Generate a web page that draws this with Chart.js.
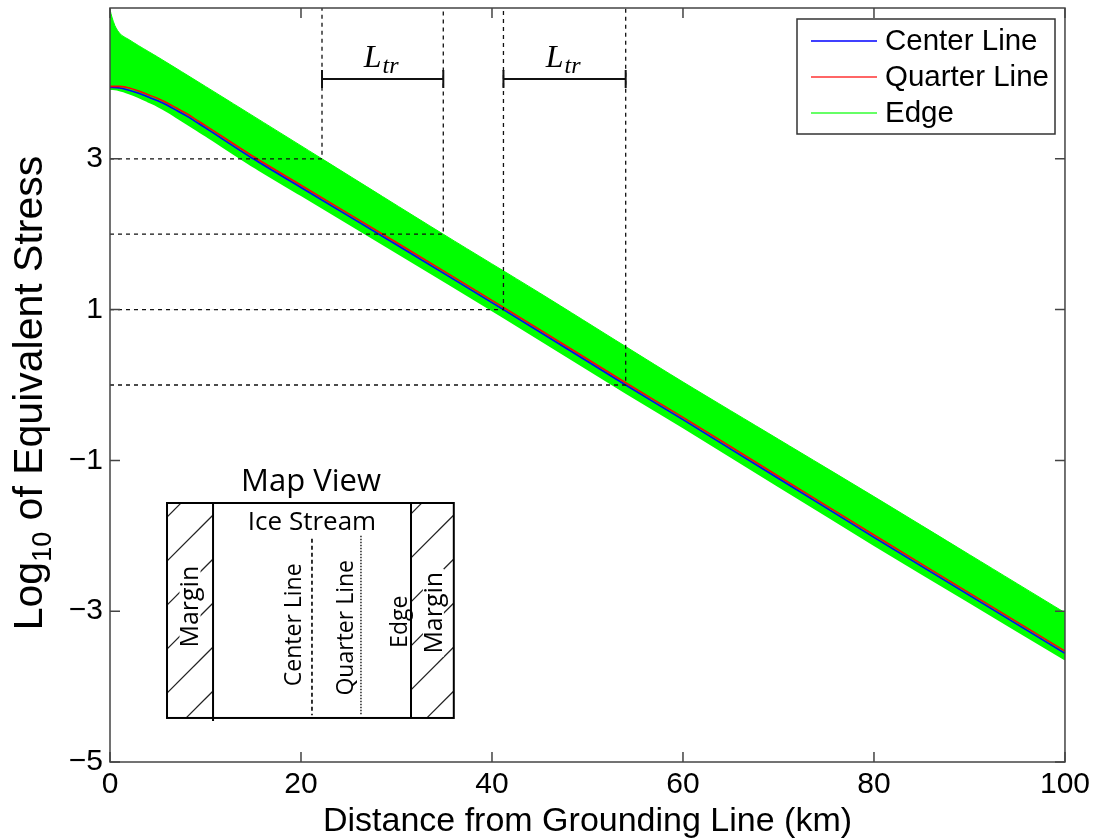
<!DOCTYPE html>
<html><head><meta charset="utf-8">
<script src="https://cdn.jsdelivr.net/npm/chart.js@4.4.0/dist/chart.umd.min.js"></script>
<style>html,body{margin:0;padding:0;background:#fff;}#wrap{width:1095px;height:839px;position:relative;}</style>
</head><body><div id="wrap"><canvas id="c" width="1095" height="839"></canvas></div>
<script>
// ---- data ----
const xTickValues = [0, 20, 40, 60, 80, 100];
const yLabelValues = [-5, -3, -1, 1, 3];
const centerX   = [0, 1, 2, 3, 4, 5, 6, 7, 8, 9, 10, 15, 20, 30, 41.2, 54, 60, 70, 80, 90, 100];
const centerY   = [3.95, 3.94, 3.91, 3.87, 3.82, 3.77, 3.71, 3.64, 3.57, 3.49, 3.41, 3.00, 2.62, 1.86, 1.00, 0.00, -0.46, -1.24, -2.02, -2.79, -3.56];
const quarterY  = [3.96, 3.96, 3.94, 3.90, 3.85, 3.80, 3.74, 3.67, 3.60, 3.52, 3.44, 3.03, 2.65, 1.89, 1.03, 0.03, -0.43, -1.21, -1.99, -2.76, -3.53];
const edgeLowY  = [3.93, 3.91, 3.87, 3.82, 3.76, 3.70, 3.63, 3.55, 3.47, 3.39, 3.31, 2.90, 2.52, 1.76, 0.90, -0.10, -0.56, -1.34, -2.12, -2.88, -3.64];
const edgeUpX   = [0, 0.2, 0.5, 0.8, 1.2, 2, 3, 5, 10, 22.2, 34.9, 45, 54, 60, 70, 80, 90, 100];
const edgeUpY   = [4.98, 4.88, 4.77, 4.70, 4.64, 4.58, 4.50, 4.35, 3.96, 3.00, 2.00, 1.22, 0.51, 0.04, -0.72, -1.48, -2.25, -3.02];
const guideX    = [22.2, 34.9, 41.2, 54.0];
const guideY    = [3, 2, 1, 0];
const ltrStart  = [22.2, 41.2];
const ltrEnd    = [34.9, 54.0];
const ltrLevel  = 4.06;
const seriesNames  = ['Center Line', 'Quarter Line', 'Edge'];
const seriesColors = ['#0000ff', '#ff3333', '#33ff33'];

const pts = (xs, ys) => xs.map((x, i) => ({x, y: ys[i]}));
const SANS = '"Liberation Sans", Arial, sans-serif';
const MAPF = '"Open Sans", "Noto Sans", sans-serif';
const fmt = v => (v < 0 ? '\u2212' + Math.abs(v) : String(v));

const overlay = {
  id: 'overlay',
  afterDatasetsDraw(chart) {
    const ctx = chart.ctx, xs = chart.scales.x, ys = chart.scales.y, a = chart.chartArea;
    const X = v => xs.getPixelForValue(v), Y = v => ys.getPixelForValue(v);
    ctx.save();
    // dashed guides
    ctx.strokeStyle = '#111'; ctx.lineWidth = 1.3; ctx.setLineDash([4, 4]);
    guideX.forEach((gx, i) => {
      ctx.beginPath();
      ctx.moveTo(X(0), Y(guideY[i])); ctx.lineTo(X(gx), Y(guideY[i]));
      ctx.lineTo(X(gx), Y(5));
      ctx.stroke();
    });
    ctx.setLineDash([]);
    // L_tr brackets
    ctx.lineWidth = 2; ctx.strokeStyle = '#111'; ctx.fillStyle = '#000';
    ltrStart.forEach((s, i) => {
      const x1 = X(s), x2 = X(ltrEnd[i]), yb = Y(ltrLevel);
      ctx.beginPath();
      ctx.moveTo(x1, yb); ctx.lineTo(x2, yb);
      ctx.moveTo(x1, yb - 9); ctx.lineTo(x1, yb + 9);
      ctx.moveTo(x2, yb - 9); ctx.lineTo(x2, yb + 9);
      ctx.stroke();
      const cx = (x1 + x2) / 2;
      ctx.font = 'italic 32px "Liberation Serif", "DejaVu Serif", serif';
      const wL = ctx.measureText('L').width;
      ctx.font = 'italic 24px "Liberation Serif", "DejaVu Serif", serif';
      const wT = ctx.measureText('tr').width;
      const x0 = cx - (wL + wT) / 2 - 2;
      ctx.textBaseline = 'alphabetic'; ctx.textAlign = 'left';
      ctx.font = 'italic 32px "Liberation Serif", "DejaVu Serif", serif';
      ctx.fillText('L', x0, yb - 12);
      ctx.font = 'italic 24px "Liberation Serif", "DejaVu Serif", serif';
      ctx.fillText('tr', x0 + wL + 1, yb - 6);
    });

    // inset "Map View"
    const bx1 = X(5.97), bx2 = X(36.0), by1 = Y(-1.565), by2 = Y(-4.416);
    const m1 = X(10.79), m2 = X(31.52);
    ctx.fillStyle = '#fff'; ctx.fillRect(bx1, by1, bx2 - bx1, by2 - by1);
    // hatching
    ctx.lineWidth = 1.2; ctx.strokeStyle = '#222';
    [[bx1, m1], [m2, bx2]].forEach(([l, r]) => {
      ctx.save(); ctx.beginPath(); ctx.rect(l, by1, r - l, by2 - by1); ctx.clip();
      for (let k = -2; k < 8; k++) {
        const y0 = by1 + 12 + k * 44;
        ctx.beginPath(); ctx.moveTo(l, y0 + (r - l)); ctx.lineTo(r, y0); ctx.stroke();
      }
      ctx.restore();
    });
    const rotText = (txt, cx, cy, size, bg) => {
      ctx.save(); ctx.translate(cx, cy); ctx.rotate(-Math.PI / 2);
      ctx.font = size + 'px ' + MAPF; ctx.textAlign = 'center'; ctx.textBaseline = 'middle';
      const w = ctx.measureText(txt).width;
      if (bg) { ctx.fillStyle = '#fff'; ctx.fillRect(-w / 2 - 3, -size * 0.42, w + 6, size * 0.84); }
      ctx.fillStyle = '#000'; ctx.fillText(txt, 0, 1);
      ctx.restore();
    };
    rotText('Margin', (bx1 + m1) / 2, Y(-2.94), 25, true);
    rotText('Margin', (m2 + bx2) / 2 + 1, Y(-3.02), 25, true);
    // outline
    ctx.lineWidth = 2; ctx.strokeStyle = '#000';
    ctx.strokeRect(bx1, by1, bx2 - bx1, by2 - by1);
    ctx.beginPath(); ctx.moveTo(m1, by1); ctx.lineTo(m1, by2 + 3); ctx.moveTo(m2, by1); ctx.lineTo(m2, by2); ctx.stroke();
    // center & quarter lines
    ctx.lineWidth = 1.6; ctx.setLineDash([4, 3]);
    ctx.beginPath(); ctx.moveTo(X(21.15), Y(-2.04)); ctx.lineTo(X(21.15), Y(-4.38)); ctx.stroke();
    ctx.lineWidth = 1.3; ctx.setLineDash([1.5, 1.5]);
    ctx.beginPath(); ctx.moveTo(X(26.28), Y(-2.0)); ctx.lineTo(X(26.28), Y(-4.38)); ctx.stroke();
    ctx.setLineDash([]);
    rotText('Center Line', X(19.17), Y(-3.18), 23, false);
    rotText('Quarter Line', X(24.7), Y(-3.22), 23, false);
    rotText('Edge', X(30.3), Y(-3.14), 23, false);
    ctx.fillStyle = '#000'; ctx.textAlign = 'center'; ctx.textBaseline = 'alphabetic';
    ctx.font = '26px ' + MAPF; ctx.fillText('Ice Stream', X(21.15), Y(-1.92));
    ctx.font = '31px ' + MAPF; ctx.fillText('Map View', X(21.05), Y(-1.41));

    // axes box and inward ticks
    ctx.strokeStyle = '#444'; ctx.lineWidth = 1.5;
    ctx.strokeRect(a.left, a.top, a.right - a.left, a.bottom - a.top);
    ctx.beginPath();
    xs.ticks.forEach(t => { const px = X(t.value); ctx.moveTo(px, a.bottom); ctx.lineTo(px, a.bottom - 10); ctx.moveTo(px, a.top); ctx.lineTo(px, a.top + 10); });
    ys.ticks.forEach(t => { const py = Y(t.value); ctx.moveTo(a.left, py); ctx.lineTo(a.left + 10, py); ctx.moveTo(a.right, py); ctx.lineTo(a.right - 10, py); });
    ctx.stroke();

    // legend
    const lx = 797, ly = 19, lw = 258, lh = 115;
    ctx.fillStyle = '#fff'; ctx.fillRect(lx, ly, lw, lh);
    ctx.strokeStyle = '#333'; ctx.lineWidth = 1.5; ctx.strokeRect(lx, ly, lw, lh);
    ctx.font = '29.5px ' + SANS; ctx.textAlign = 'left'; ctx.textBaseline = 'middle';
    seriesNames.forEach((n, i) => {
      const yy = 41 + i * 36;
      ctx.strokeStyle = seriesColors[i]; ctx.lineWidth = 1.5;
      ctx.beginPath(); ctx.moveTo(811, yy); ctx.lineTo(877, yy); ctx.stroke();
      ctx.fillStyle = '#000'; ctx.fillText(n, 885, yy + 1);
    });

    // axis titles
    ctx.fillStyle = '#000';
    ctx.font = '34px ' + SANS; ctx.textAlign = 'center'; ctx.textBaseline = 'alphabetic';
    ctx.fillText('Distance from Grounding Line (km)', (a.left + a.right) / 2, 831);
    ctx.save(); ctx.translate(42, (a.top + a.bottom) / 2 + 8); ctx.rotate(-Math.PI / 2);
    const big = '41px ' + SANS, small = '27px ' + SANS;
    ctx.font = big; const w1 = ctx.measureText('Log').width, w3 = ctx.measureText(' of Equivalent Stress').width;
    ctx.font = small; const w2 = ctx.measureText('10').width;
    let sx = -(w1 + w2 + w3) / 2;
    ctx.textAlign = 'left';
    ctx.font = big; ctx.fillText('Log', sx, 0); sx += w1;
    ctx.font = small; ctx.fillText('10', sx, 9); sx += w2;
    ctx.font = big; ctx.fillText(' of Equivalent Stress', sx, 0);
    ctx.restore();
    ctx.restore();
  }
};

new Chart(document.getElementById('c'), {
  type: 'line',
  data: {
    datasets: [
      {label: seriesNames[0], data: pts(centerX, centerY), borderColor: seriesColors[0], borderWidth: 1.6, pointRadius: 0, tension: 0.3, order: 1, fill: false},
      {label: seriesNames[1], data: pts(centerX, quarterY), borderColor: '#ff0000', borderWidth: 1.6, pointRadius: 0, tension: 0.3, order: 0, fill: false},
      {label: seriesNames[2], data: pts(edgeUpX, edgeUpY), borderColor: '#00ff00', backgroundColor: '#00ff00', borderWidth: 1, pointRadius: 0, tension: 0.3, order: 5, fill: '+1'},
      {label: 'edge-low', data: pts(centerX, edgeLowY), borderColor: '#00ff00', borderWidth: 2, pointRadius: 0, tension: 0.3, order: 6, fill: false}
    ]
  },
  options: {
    responsive: false, animation: false, devicePixelRatio: 1,
    layout: {padding: {top: 8, right: 30, left: 0, bottom: 0}},
    plugins: {legend: {display: false}, tooltip: {enabled: false}},
    scales: {
      x: {type: 'linear', min: 0, max: 100,
          grid: {display: false, drawTicks: false}, border: {display: false},
          afterFit: s => { s.height = 77; },
          afterBuildTicks: s => { s.ticks = xTickValues.map(v => ({value: v})); },
          ticks: {autoSkip: false, maxRotation: 0, padding: 5, color: '#000', font: {family: SANS, size: 30}}},
      y: {type: 'linear', min: -5, max: 5,
          grid: {display: false, drawTicks: false}, border: {display: false},
          afterFit: s => { s.width = 110; s.paddingTop = 0; s.paddingBottom = 0; },
          ticks: {stepSize: 1, autoSkip: false, padding: 7, color: '#000', font: {family: SANS, size: 30, lineHeight: 0.02},
                  callback: v => (yLabelValues.includes(v) ? fmt(v) : null)}}
    }
  },
  plugins: [overlay]
});
</script></body></html>
